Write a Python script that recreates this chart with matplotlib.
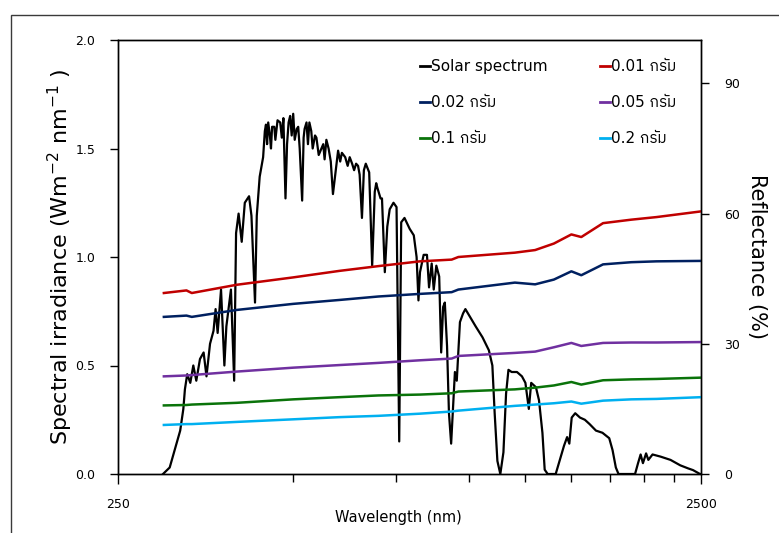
import matplotlib
matplotlib.use("Agg")
import matplotlib.pyplot as plt
from matplotlib import font_manager
from matplotlib.ft2font import FT2Font
from matplotlib.ticker import FixedLocator, NullFormatter, FixedFormatter
from matplotlib.patches import Rectangle

# ---------------- data ----------------
# Solar irradiance (W m^-2 nm^-1) versus wavelength (nm)
solar_wl = [299, 307, 313, 320, 324, 326, 329, 333, 337, 341, 346, 351, 355, 360,
            365, 368, 371, 376, 381, 384, 391, 396, 399, 403, 408, 413, 420, 424,
            430, 433, 438, 444, 445, 447, 449, 451, 453, 456, 458, 460, 464, 466,
            470, 475, 478, 481, 485, 488, 491, 494, 497, 500, 503, 507, 510, 513,
            518, 521, 523, 527, 530, 533, 537, 540, 545, 548, 553, 559, 563, 566,
            570, 575, 580, 585, 597, 602, 606, 614, 620, 625, 631, 636, 641, 646,
            650, 656, 661, 666, 675, 683, 690, 694, 697, 706, 710, 718, 725, 732,
            743, 752, 760, 766, 776, 792, 805, 814, 820, 825, 837, 848, 855, 864,
            871, 880, 890, 897, 904, 910, 918, 925, 933, 947, 954, 966, 978, 987,
            1002, 1028, 1056, 1083, 1098, 1108, 1120, 1133, 1147, 1159, 1170, 1185,
            1210, 1234, 1251, 1268, 1280, 1304, 1320, 1338, 1350, 1366, 1410, 1428,
            1457, 1475, 1488, 1502, 1523, 1552, 1582, 1612, 1653, 1696, 1742, 1765,
            1788, 1807, 1929, 1952, 1972, 1990, 2015, 2033, 2067, 2134, 2219, 2306,
            2378, 2425, 2493, 2500]
solar_irr = [0.00, 0.03, 0.11, 0.20, 0.30, 0.39, 0.46, 0.42, 0.50, 0.43, 0.53, 0.56,
             0.45, 0.60, 0.66, 0.76, 0.65, 0.85, 0.50, 0.68, 0.85, 0.43, 1.11, 1.20,
             1.07, 1.25, 1.28, 1.19, 0.79, 1.19, 1.37, 1.46, 1.50, 1.58, 1.61, 1.52,
             1.62, 1.56, 1.50, 1.60, 1.60, 1.54, 1.63, 1.62, 1.55, 1.64, 1.27, 1.52,
             1.62, 1.65, 1.56, 1.66, 1.54, 1.59, 1.60, 1.50, 1.26, 1.55, 1.59, 1.62,
             1.52, 1.62, 1.58, 1.50, 1.56, 1.55, 1.47, 1.50, 1.52, 1.45, 1.54, 1.50,
             1.44, 1.29, 1.49, 1.44, 1.48, 1.46, 1.42, 1.46, 1.43, 1.40, 1.43, 1.42,
             1.38, 1.18, 1.40, 1.43, 1.39, 0.96, 1.30, 1.34, 1.32, 1.27, 1.27, 0.93,
             1.14, 1.22, 1.25, 1.23, 0.15, 1.16, 1.18, 1.13, 1.10, 1.00, 0.80, 0.93,
             1.01, 1.01, 0.86, 0.97, 0.85, 0.96, 0.91, 0.56, 0.77, 0.79, 0.59, 0.28,
             0.14, 0.47, 0.43, 0.70, 0.74, 0.76, 0.73, 0.68, 0.63, 0.57, 0.50, 0.28,
             0.06, 0.00, 0.10, 0.37, 0.48, 0.47, 0.47, 0.45, 0.42, 0.30, 0.42, 0.40,
             0.34, 0.19, 0.02, 0.00, 0.00, 0.05, 0.13, 0.17, 0.14, 0.26, 0.28, 0.26,
             0.25, 0.23, 0.20, 0.19, 0.165, 0.11, 0.03, 0.00, 0.00, 0.05, 0.09, 0.05,
             0.095, 0.065, 0.09, 0.08, 0.065, 0.04, 0.026, 0.018, 0.00, 0.00]

# Reflectance (%) of each sample versus wavelength (nm)
refl_wl = [300, 328, 335, 400, 500, 600, 700, 825, 935, 960, 1200, 1300, 1400,
           1500, 1560, 1700, 1900, 2100, 2500]
refl_001 = [41.7, 42.3, 41.7, 43.6, 45.3, 46.8, 47.9, 49.0, 49.4, 50.0, 51.0, 51.6,
            53.1, 55.2, 54.6, 57.8, 58.6, 59.2, 60.5]
refl_002 = [36.2, 36.5, 36.2, 37.8, 39.2, 40.1, 40.9, 41.5, 41.9, 42.5, 44.1, 43.7,
            44.8, 46.7, 45.8, 48.3, 48.8, 49.0, 49.1]
refl_005 = [22.5, 22.7, 22.8, 23.6, 24.5, 25.1, 25.6, 26.2, 26.6, 27.2, 27.9, 28.2,
            29.2, 30.2, 29.5, 30.2, 30.3, 30.3, 30.4]
refl_01 = [15.8, 15.9, 16.0, 16.4, 17.2, 17.7, 18.1, 18.3, 18.6, 19.0, 19.5, 19.9,
           20.4, 21.2, 20.6, 21.6, 21.8, 21.9, 22.2]
refl_02 = [11.3, 11.5, 11.5, 12.0, 12.6, 13.1, 13.4, 13.9, 14.4, 14.6, 15.7, 16.0,
           16.3, 16.7, 16.2, 16.9, 17.2, 17.3, 17.7]

series_labels = ["0.01 กรัม", "0.02 กรัม", "0.05 กรัม", "0.1 กรัม", "0.2 กรัม"]
series_colors = ["#C00000", "#002060", "#7030A0", "#0A730A", "#00B0F0"]

x_major = [250, 2500]
x_minor = [500, 750, 1000, 1250, 1500, 1750, 2000, 2250]
y_left_ticks = [0.0, 0.5, 1.0, 1.5, 2.0]
y_right_ticks = [0, 30, 60, 90]


# ---------------- fonts ----------------
def find_thai_family():
    preferred = []
    others = []
    for f in font_manager.fontManager.ttflist:
        try:
            if 0x0E01 in FT2Font(f.fname).get_charmap():
                if "sans" in f.name.lower() or "thai" in f.name.lower():
                    preferred.append(f.name)
                else:
                    others.append(f.name)
        except Exception:
            pass
    for group in (preferred, others):
        if group:
            return group[0]
    return None


thai = find_thai_family()
families = ["DejaVu Sans"] + ([thai] if thai else [])
plt.rcParams["font.family"] = families

# ---------------- figure ----------------
W, H = 779, 533
fig = plt.figure(figsize=(W / 100, H / 100), dpi=100)
ax = fig.add_axes([117.7 / W, 1 - 474 / H, (700.7 - 117.7) / W, (474 - 40) / H])

# outer frame of the chart area
fig.patches.append(Rectangle((10.5 / W, -0.2), 1.5, 0.2 + 1 - 15 / H,
                             transform=fig.transFigure, fill=False,
                             edgecolor="#3a3a3a", linewidth=1.0))

solar_line, = ax.plot(solar_wl, solar_irr, color="black", linewidth=1.6,
                      label="Solar spectrum")
ax.set_xscale("log")
ax.set_xlim(250, 2500)
ax.set_ylim(0, 2.0)
ax.xaxis.set_major_locator(FixedLocator(x_major))
ax.xaxis.set_major_formatter(FixedFormatter([str(v) for v in x_major]))
ax.xaxis.set_minor_locator(FixedLocator(x_minor))
ax.xaxis.set_minor_formatter(NullFormatter())
ax.set_yticks(y_left_ticks)
ax.set_yticklabels([f"{v:.1f}" for v in y_left_ticks])
ax.tick_params(axis="x", which="major", length=7, width=1, pad=10, labelsize=9)
ax.tick_params(axis="x", which="minor", length=6, width=1)
ax.tick_params(axis="y", length=6, width=1, pad=10, labelsize=9)
ax.set_xlabel("Wavelength (nm)", fontsize=10.5)
ax.xaxis.set_label_coords(0.481, -0.083)
ax.set_ylabel("Spectral irradiance (Wm$^{-2}$ nm$^{-1}$ )", fontsize=16, labelpad=0)

ax2 = ax.twinx()
ax2.set_ylim(0, 100)
ax2.set_yticks(y_right_ticks)
ax2.tick_params(axis="y", length=6, width=1, pad=11, labelsize=9)
ax2.set_ylabel("Reflectance (%)", fontsize=15, rotation=-90, labelpad=19)

refl_lines = []
for vals, lab, col in zip([refl_001, refl_002, refl_005, refl_01, refl_02],
                          series_labels, series_colors):
    ln, = ax2.plot(refl_wl, vals, color=col, linewidth=1.8, label=lab)
    refl_lines.append(ln)

for a in (ax, ax2):
    for s in a.spines.values():
        s.set_linewidth(1.0)

# legend: row-wise reading order in two columns
handles = [solar_line, refl_lines[1], refl_lines[3],
           refl_lines[0], refl_lines[2], refl_lines[4]]
leg = ax2.legend(handles=handles, labels=[h.get_label() for h in handles],
                 ncol=2, frameon=False, fontsize=11, handlelength=0.65,
                 handletextpad=0.05, columnspacing=3.46, labelspacing=1.39,
                 loc="upper left", bbox_to_anchor=(0.495, 0.988))
for h in leg.legend_handles:
    h.set_linewidth(2.0)

fig.savefig("out.png", dpi=100)
